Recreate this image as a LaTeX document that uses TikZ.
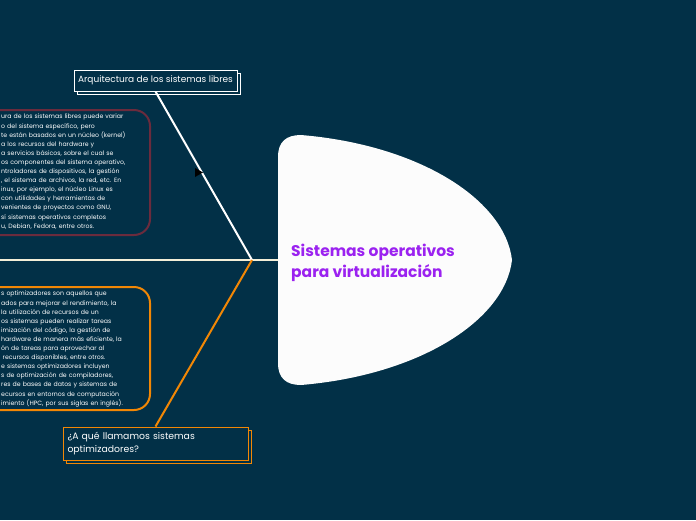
\documentclass[tikz,border=0pt]{standalone}
\usepackage{fontspec}
\setmainfont{Poppins}
\usepackage{xcolor}
\usepackage{tikz}
\usetikzlibrary{positioning,calc,shadows}
\definecolor{bgnavy}{HTML}{023047}
\definecolor{wine}{HTML}{6B2B3D}
\definecolor{tangerine}{HTML}{F28705}
\definecolor{cream}{HTML}{F4EFD8}
\definecolor{violet}{HTML}{9B22F0}
\definecolor{paper}{HTML}{FCFCFC}

\begin{document}
\begin{tikzpicture}[
  x=1pt, y=-1pt,
  tag/.style={
    fill=bgnavy, line width=1pt, text=white, inner sep=0pt,
    font=\fontsize{9}{13}\selectfont,
    copy shadow={shadow xshift=3pt, shadow yshift=-3pt}
  },
  descbox/.style={draw, fill=bgnavy, line width=2pt, rounded corners=16pt, inner sep=0pt},
  desc/.style={text=white, align=left, text width=160pt, inner sep=0pt, anchor=north west,
    font=\fontsize{6.2}{9.1}\selectfont},
  branch/.style={line width=2pt}
]

\useasboundingbox (0,0) rectangle (696,520);
\fill[bgnavy] (0,0) rectangle (696,520);
\clip (0,0) rectangle (696,520);

\fill[paper] (278,157) .. controls (278,142) and (286,135) .. (301,135)
  .. controls (420,145) and (505,200) .. (512,260)
  .. controls (505,320) and (420,375) .. (301,385)
  .. controls (286,385) and (278,378) .. (278,363) -- cycle;
\coordinate (coreW) at (278,260);
\node[anchor=west, align=left, inner sep=0pt, text=violet,
  font=\fontsize{15.5}{21}\selectfont\bfseries] (core) at (291,263)
  {Sistemas operativos\\para virtualización};

\coordinate (hub) at (252,260);
\coordinate (edge) at (0,260);

\node[descbox, draw=wine, minimum width=190pt, minimum height=125pt] (arqbox) at (55,172.5) {};
\node[desc] (arqtext) at (1,114) {%
ura de los sistemas libres puede variar\\
o del sistema específico, pero\\
te están basados en un núcleo (kernel)\\
a los recursos del hardware y\\
a servicios básicos, sobre el cual se\\
os componentes del sistema operativo,\\
ntroladores de dispositivos, la gestión\\
, el sistema de archivos, la red, etc. En\\
inux, por ejemplo, el núcleo Linux es\\
con utilidades y herramientas de\\
venientes de proyectos como GNU,\\
sí sistemas operativos completos\\
u, Debian, Fedora, entre otros.};

\node[descbox, draw=tangerine, minimum width=190pt, minimum height=123pt] (optbox) at (55,348.5) {};
\node[desc] (opttext) at (1,291) {%
s optimizadores son aquellos que\\
ados para mejorar el rendimiento, la\\
la utilización de recursos de un\\
os sistemas pueden realizar tareas\\
imización del código, la gestión de\\
hardware de manera más eficiente, la\\
ón de tareas para aprovechar al\\
\phantom{i}recursos disponibles, entre otros.\\
e sistemas optimizadores incluyen\\
s de optimización de compiladores,\\
res de bases de datos y sistemas de\\
ecursos en entornos de computación\\
imiento (HPC, por sus siglas en inglés).};

\node[tag, draw=white, minimum width=163pt, minimum height=21pt] (arq) at (155.5,80.5)
  {Arquitectura de los sistemas libres};
\node[tag, draw=tangerine, minimum width=185pt, minimum height=33pt,
  text width=176pt, align=left, font=\fontsize{9.3}{13}\selectfont] (opt) at (155.5,443.5)
  {¿A qué llamamos sistemas\\optimizadores?};

\draw[branch, cream] (edge) -- (coreW);
\draw[branch, white] (arq.south) -- (hub);
\draw[branch, tangerine] (hub) -- (opt.north);

\fill[black] (195,168) -- (195,177) -- (203,172.5) -- cycle;

\end{tikzpicture}
\end{document}
